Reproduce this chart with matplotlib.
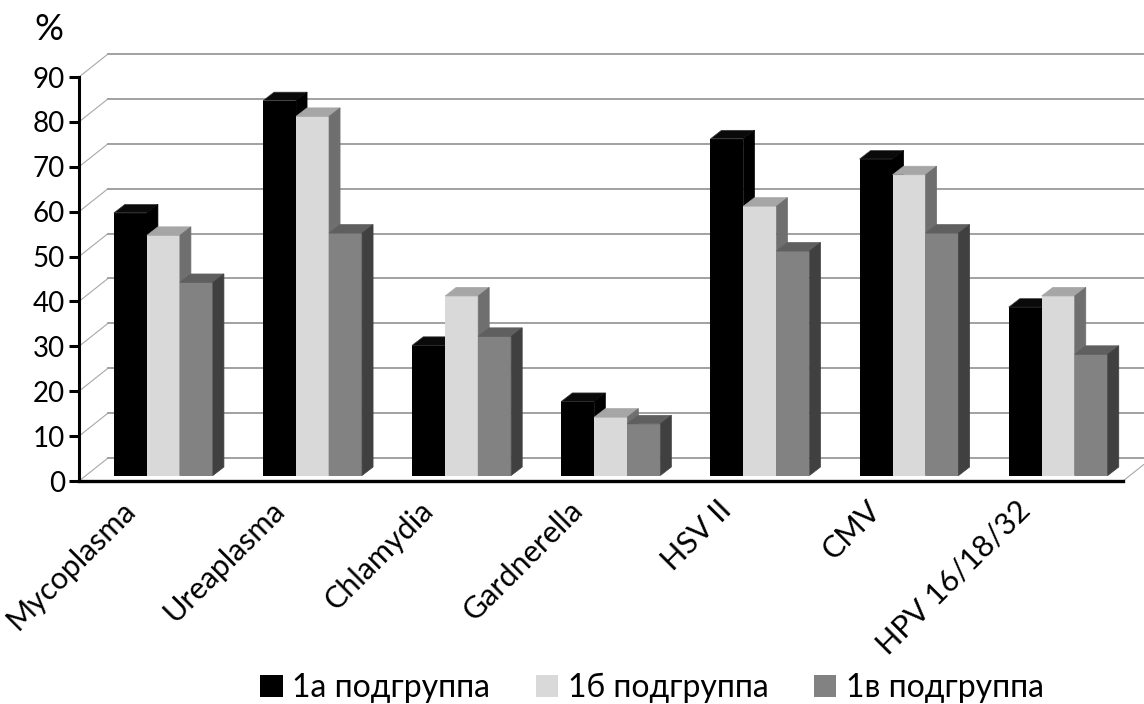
import matplotlib
matplotlib.use('Agg')
import matplotlib.pyplot as plt
from matplotlib.patches import Polygon, Patch

plt.rcParams['font.family'] = ['Lato', 'Noto Sans', 'DejaVu Sans']

# данные
categories = ['Mycoplasma', 'Ureaplasma', 'Chlamydia', 'Gardnerella',
              'HSV II', 'CMV', 'HPV 16/18/32']
group_1a = [58.5, 83.5, 29, 16.5, 75, 70.5, 37.5]
group_1b = [53.5, 80, 40, 13, 60, 67, 40]
group_1v = [43, 54, 31, 11.5, 50, 54, 27]
series_names = ['1а подгруппа', '1б подгруппа', '1в подгруппа']
yticks = list(range(0, 91, 10))

series = [group_1a, group_1b, group_1v]
# цвета: перед, верх, бок
faces = [('#000000', '#0a0a0a', '#000000'),
         ('#d9d9d9', '#a6a6a6', '#6f6f6f'),
         ('#828282', '#5f5f5f', '#404040')]

W, H = 1144, 704
fig = plt.figure(figsize=(W / 100, H / 100), dpi=100)
ax = fig.add_axes([79 / W, (H - 481) / H, 1044 / W, 404 / H])
ax.set_xlim(-0.5, 6.5)
ax.set_ylim(0, 90)
ax.patch.set_visible(False)

px_x = 7 / 1044
px_y = 90 / 404
wall_dx, wall_dy = 29 * px_x, 23 * px_y

# задняя и боковая стенки
for v in yticks:
    ax.plot([-0.5, -0.5 + wall_dx], [v, v + wall_dy], color='#a8a8a8',
            lw=0.8, clip_on=False, zorder=1)
    ax.plot([-0.5 + wall_dx, 6.5 + wall_dx + 0.3], [v + wall_dy] * 2,
            color='#9a9a9a', lw=1.3, clip_on=False, zorder=1)
ax.plot([6.5, 6.5 + wall_dx], [0, wall_dy], color='#a8a8a8', lw=0.8,
        clip_on=False, zorder=1)

# столбики
w = 33 * px_x
pdx = 0.066
base = 5.5 * px_y
ddx, ddy = 11 * px_x, 8.5 * px_y

for j, vals in enumerate(series):
    front, top, side = faces[j]
    xs = [i + pdx + (j - 1.5) * w for i in range(len(categories))]
    ax.bar(xs, vals, width=w, bottom=base, align='edge', color=front,
           edgecolor='none', zorder=3 + j)
    for x0, v in zip(xs, vals):
        y1 = base + v
        ax.add_patch(Polygon([(x0, y1), (x0 + w, y1), (x0 + w + ddx, y1 + ddy),
                              (x0 + ddx, y1 + ddy)], closed=True,
                             facecolor=top, edgecolor='#3c3c3c' if j == 0 else top,
                             lw=0.5, zorder=3 + j, clip_on=False))
        ax.add_patch(Polygon([(x0 + w, base), (x0 + w, y1), (x0 + w + ddx, y1 + ddy),
                              (x0 + w + ddx, base + ddy)], closed=True,
                             facecolor=side, edgecolor=side, lw=0.5,
                             zorder=3 + j, clip_on=False))

# оси
for s in ['top', 'right']:
    ax.spines[s].set_visible(False)
ax.spines['left'].set_linewidth(2.2)
ax.spines['left'].set_bounds(0, 90)
ax.spines['bottom'].set_linewidth(2.4)
ax.spines['bottom'].set_zorder(10)
ax.set_yticks(yticks)
ax.tick_params(axis='y', length=7, width=2.2, labelsize=20, pad=3)
ax.set_xticks([])

for i, c in enumerate(categories):
    ax.annotate(c, xy=(i, 0), xytext=(-13, -15), textcoords='offset pixels',
                rotation=45, ha='right', va='top', fontsize=22,
                annotation_clip=False)

fig.text(34 / W, (H - 40) / H, '%', fontsize=26, va='baseline', ha='left')

handles = [Patch(facecolor=f[0], edgecolor='none') for f in faces]
fig.legend(handles, series_names, loc='center',
           bbox_to_anchor=(652 / W, (H - 688) / H), ncol=3, frameon=False,
           fontsize=23, handlelength=0.7, handleheight=0.7, handletextpad=0.3,
           columnspacing=1.42, borderaxespad=0, borderpad=0)

fig.savefig('out.png', dpi=100)
